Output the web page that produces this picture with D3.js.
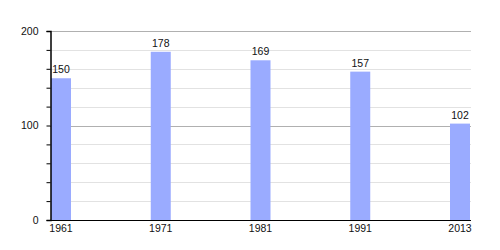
<!DOCTYPE html>
<html>
<head>
<meta charset="utf-8">
<script src="https://cdn.jsdelivr.net/npm/d3@7"></script>
<style>
  body { margin: 0; background: #fff; }
  text { font-family: "Liberation Sans", Arial, sans-serif; fill: #111; }
</style>
</head>
<body>
<div id="chart"></div>
<script>
const years = ["1961", "1971", "1981", "1991", "2013"];
const population = [150, 178, 169, 157, 102];
const majorTicks = [0, 100, 200];
const minorTicks = d3.range(0, 201, 20);

const width = 500, height = 250;
const svg = d3.select("#chart")
    .append("svg")
    .attr("width", width)
    .attr("height", height);

const x = d3.scalePoint()
    .domain(years)
    .range([51, 450]);
const barW = 20;

const y = d3.scaleLinear()
    .domain([0, 200])
    .range([220, 31]);

// minor grid
svg.append("g")
    .selectAll("line")
    .data(minorTicks.filter(d => d % 100 !== 0))
    .enter()
    .append("line")
    .attr("x1", 50)
    .attr("x2", 471)
    .attr("y1", d => Math.round(y(d)) + 0.5)
    .attr("y2", d => Math.round(y(d)) + 0.5)
    .attr("stroke", "#e2e2e2")
    .attr("stroke-width", 1);

// major grid
svg.append("g")
    .selectAll("line")
    .data(majorTicks.filter(d => d > 0))
    .enter()
    .append("line")
    .attr("x1", 50)
    .attr("x2", 471)
    .attr("y1", d => Math.round(y(d)) + 0.5)
    .attr("y2", d => Math.round(y(d)) + 0.5)
    .attr("stroke", "#b0b0b0")
    .attr("stroke-width", 1);

// bars
svg.append("g")
    .selectAll("rect")
    .data(years.map((yr, i) => ({ yr, v: population[i] })))
    .enter()
    .append("rect")
    .attr("x", d => x(d.yr))
    .attr("y", d => y(d.v))
    .attr("width", barW)
    .attr("height", d => y(0) - y(d.v))
    .attr("fill", "#9aabff");

// value labels
svg.append("g")
    .selectAll("text")
    .data(years.map((yr, i) => ({ yr, v: population[i] })))
    .enter()
    .append("text")
    .attr("x", d => x(d.yr) + barW / 2)
    .attr("y", d => y(d.v) - 5)
    .attr("text-anchor", "middle")
    .attr("font-size", "10.5px")
    .text(d => d.v);

// y axis
const yAxis = d3.axisLeft(y)
    .tickValues(minorTicks)
    .tickSize(4)
    .tickFormat(d => d % 100 === 0 ? d : "");
const gy = svg.append("g")
    .attr("transform", "translate(50.5,0)")
    .call(yAxis);
gy.select(".domain").attr("stroke", "#000").attr("stroke-width", 1.5);
gy.selectAll(".tick line").attr("stroke", "#000");
gy.selectAll(".tick text")
    .attr("font-size", "10.5px")
    .attr("font-family", "Liberation Sans, Arial, sans-serif")
    .attr("fill", "#111")
    .attr("x", -12);

// x baseline
svg.append("line")
    .attr("x1", 50)
    .attr("x2", 471)
    .attr("y1", y(0) + 0.5)
    .attr("y2", y(0) + 0.5)
    .attr("stroke", "#000")
    .attr("stroke-width", 1.2);

// year labels
svg.append("g")
    .selectAll("text")
    .data(years)
    .enter()
    .append("text")
    .attr("x", d => x(d) + barW / 2)
    .attr("y", 232)
    .attr("text-anchor", "middle")
    .attr("font-size", "10.5px")
    .text(d => d);
</script>
</body>
</html>
